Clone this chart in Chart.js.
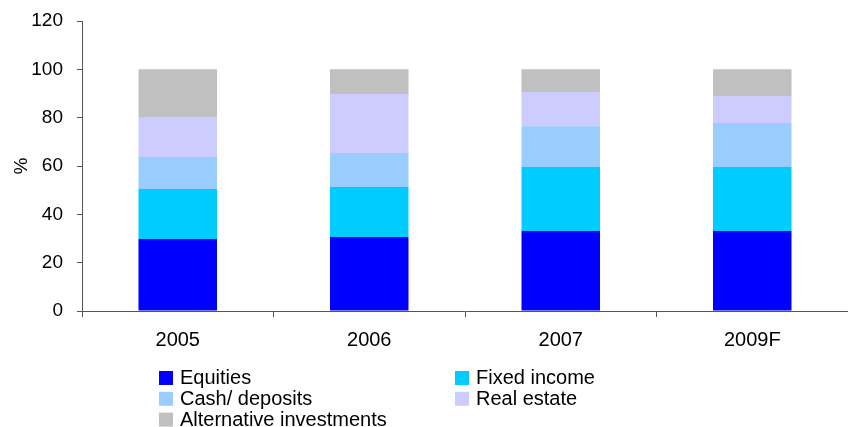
<!DOCTYPE html>
<html>
<head>
<meta charset="utf-8">
<title>Asset allocation</title>
<script src="https://cdn.jsdelivr.net/npm/chart.js@4/dist/chart.umd.min.js"></script>
<style>
  html, body { margin: 0; padding: 0; background: #fff; }
  #wrap { width: 848px; height: 427px; }
</style>
</head>
<body>
<div id="wrap"><canvas id="alloc" width="848" height="427"></canvas></div>
<script>
// asset mix by year, % of total (stacked bottom to top)
const years = ['2005', '2006', '2007', '2009F'];
const equities     = [29.8, 30.6, 33.1, 33.1];
const fixedIncome  = [20.7, 20.7, 26.5, 26.5];
const cashDeposits = [13.2, 14.1, 16.9, 18.2];
const realEstate   = [16.3, 24.4, 14.1, 11.2];
const altInvest    = [20.0, 10.2,  9.4, 11.0];

const seriesNames  = ['Equities', 'Fixed income', 'Cash/ deposits', 'Real estate', 'Alternative investments'];
const seriesColors = ['#0000ff', '#00ccff', '#99ccff', '#ccccff', '#c0c0c0'];
const yTicks = [0, 20, 40, 60, 80, 100, 120];

const FONT = '"Liberation Sans", Arial, Helvetica, sans-serif';
const AXIS = '#555555';

// two-column legend under the plot
const legendCols = [159, 455];
const legendTop = 378;
const legendRowH = 20.8;

const gridLegend = {
  id: 'gridLegend',
  afterDraw(chart) {
    const ctx = chart.ctx;
    ctx.save();
    ctx.font = '20px ' + FONT;
    ctx.textBaseline = 'alphabetic';
    chart.data.datasets.forEach((ds, i) => {
      const x = legendCols[i % 2];
      const y = legendTop + Math.floor(i / 2) * legendRowH;
      ctx.fillStyle = ds.backgroundColor;
      ctx.fillRect(x, y - 7, 14, 14);
      ctx.fillStyle = '#000';
      ctx.fillText(ds.label, x + 21, y + 6.3);
    });
    ctx.restore();
  }
};

const values = [equities, fixedIncome, cashDeposits, realEstate, altInvest];

new Chart(document.getElementById('alloc'), {
  type: 'bar',
  data: {
    labels: years,
    datasets: values.map((v, i) => ({
      label: seriesNames[i],
      data: v,
      backgroundColor: seriesColors[i],
      borderWidth: 0,
      barPercentage: 0.41,
      categoryPercentage: 1
    }))
  },
  options: {
    responsive: false,
    animation: false,
    layout: { padding: { top: 21, left: 0, right: 0, bottom: 0 } },
    plugins: { legend: { display: false }, tooltip: { enabled: false } },
    scales: {
      x: {
        stacked: true,
        grid: { offset: true, drawOnChartArea: false, drawTicks: true, tickLength: 6, color: AXIS },
        border: { display: true, color: AXIS, width: 1 },
        ticks: { color: '#000', font: { family: FONT, size: 20 }, padding: 11 },
        afterFit(scale) { scale.height = 116; }
      },
      y: {
        stacked: true,
        min: 0,
        max: 120,
        afterBuildTicks(scale) { scale.ticks = yTicks.map(v => ({ value: v })); },
        grid: { drawOnChartArea: false, drawTicks: true, tickLength: 5, color: AXIS },
        border: { display: true, color: AXIS, width: 1 },
        ticks: { color: '#000', font: { family: FONT, size: 19 }, padding: 14 },
        title: { display: true, text: '%', color: '#000', font: { family: FONT, size: 19 }, padding: { top: 10, bottom: 0 } },
        afterFit(scale) {
          scale.width = 82;
          // plot top is set by layout padding alone
          scale.paddingTop = 0;
          scale.paddingBottom = 0;
        }
      }
    }
  },
  plugins: [gridLegend]
});
</script>
</body>
</html>
